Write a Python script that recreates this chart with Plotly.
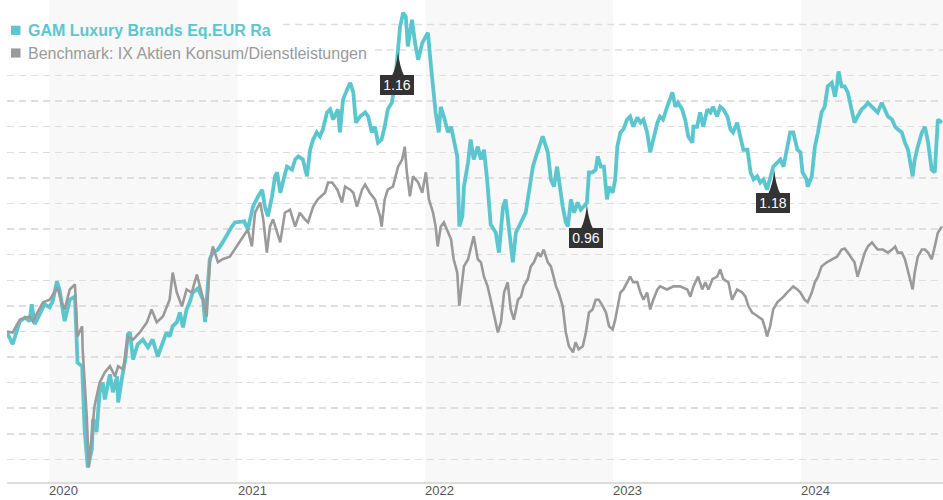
import plotly.graph_objects as go

fund_name = "GAM Luxury Brands Eq.EUR Ra"
bench_name = "Benchmark: IX Aktien Konsum/Dienstleistungen"

# performance in % (start = 0)
fund = [
    ("2019-10-11", -0.2), ("2019-10-22", -2.5), ("2019-11-05", 2.0), ("2019-11-15", 2.7), ("2019-11-24", 2.0),
    ("2019-11-28", 5.3), ("2019-12-04", 1.4), ("2019-12-13", 3.3), ("2019-12-23", 5.3),
    ("2020-01-02", 4.7), ("2020-01-08", 5.9), ("2020-01-16", 9.8), ("2020-01-21", 8.2), ("2020-01-31", 2.0),
    ("2020-02-10", 6.2), ("2020-02-20", 6.8), ("2020-02-25", -6.1), ("2020-03-05", -6.8), ("2020-03-10", -19.5),
    ("2020-03-16", -26.6), ("2020-03-24", -23.0), ("2020-03-26", -17.2), ("2020-03-30", -17.8), ("2020-04-02", -19.7),
    ("2020-04-08", -11.9), ("2020-04-14", -10.0), ("2020-04-18", -13.3), ("2020-04-28", -8.4), ("2020-05-04", -11.9),
    ("2020-05-12", -8.8), ("2020-05-14", -13.9), ("2020-05-22", -8.8), ("2020-05-28", -5.5), ("2020-06-02", -0.6),
    ("2020-06-06", -0.2), ("2020-06-12", -5.5), ("2020-06-21", -2.5), ("2020-07-01", -1.6), ("2020-07-11", -3.1),
    ("2020-07-20", -1.6), ("2020-07-30", -4.9), ("2020-08-09", -2.1), ("2020-08-16", -0.2), ("2020-08-22", -1.0),
    ("2020-08-28", 1.0), ("2020-09-05", 1.8), ("2020-09-11", 3.7), ("2020-09-17", 0.8), ("2020-09-24", 4.3),
    ("2020-09-30", 5.7), ("2020-10-06", 7.6), ("2020-10-16", 8.4), ("2020-10-26", 6.2), ("2020-10-30", 1.8),
    ("2020-11-04", 9.6), ("2020-11-08", 14.1), ("2020-11-14", 15.4), ("2020-11-24", 16.0), ("2020-12-03", 17.4),
    ("2020-12-13", 19.3), ("2020-12-21", 20.5), ("2020-12-27", 21.3),
    ("2021-01-06", 21.5), ("2021-01-14", 21.5), ("2021-01-21", 19.9), ("2021-01-31", 24.4), ("2021-02-10", 26.4),
    ("2021-02-18", 27.7), ("2021-02-23", 24.4), ("2021-03-01", 22.5), ("2021-03-09", 26.4), ("2021-03-15", 30.3),
    ("2021-03-19", 31.1), ("2021-03-25", 27.1), ("2021-03-30", 29.1), ("2021-04-07", 32.2), ("2021-04-17", 31.6),
    ("2021-04-23", 33.6), ("2021-04-29", 34.2), ("2021-05-08", 33.6), ("2021-05-16", 30.3), ("2021-05-22", 35.5),
    ("2021-05-28", 37.5), ("2021-06-04", 38.9), ("2021-06-10", 38.1), ("2021-06-16", 39.5), ("2021-06-24", 42.8),
    ("2021-06-30", 43.4), ("2021-07-06", 41.4), ("2021-07-15", 43.4), ("2021-07-19", 38.9), ("2021-07-25", 45.3),
    ("2021-08-02", 47.3), ("2021-08-08", 48.6), ("2021-08-14", 46.7), ("2021-08-19", 40.8), ("2021-08-27", 42.0),
    ("2021-09-06", 42.8), ("2021-09-12", 42.0), ("2021-09-19", 38.9), ("2021-09-25", 40.0), ("2021-10-01", 36.9),
    ("2021-10-08", 37.5), ("2021-10-14", 40.0), ("2021-10-20", 43.4), ("2021-10-28", 44.7), ("2021-11-03", 48.6),
    ("2021-11-09", 54.5), ("2021-11-13", 59.6), ("2021-11-19", 62.3), ("2021-11-24", 61.5), ("2021-11-28", 55.7),
    ("2021-12-06", 60.9), ("2021-12-12", 56.4), ("2021-12-18", 53.1), ("2021-12-26", 56.4),
    ("2022-01-02", 57.6), ("2022-01-06", 58.4), ("2022-01-12", 51.8), ("2022-01-18", 45.3), ("2022-01-21", 42.8),
    ("2022-01-27", 38.9), ("2022-01-31", 43.9), ("2022-02-06", 42.0), ("2022-02-14", 38.9), ("2022-02-20", 40.0),
    ("2022-02-25", 37.5), ("2022-03-04", 34.2), ("2022-03-08", 20.5), ("2022-03-14", 22.5), ("2022-03-17", 28.3),
    ("2022-03-25", 33.0), ("2022-03-30", 37.5), ("2022-04-05", 33.6), ("2022-04-13", 36.1), ("2022-04-19", 33.6),
    ("2022-04-25", 35.5), ("2022-05-01", 29.7), ("2022-05-08", 20.9), ("2022-05-18", 19.3), ("2022-05-24", 15.4),
    ("2022-06-01", 24.4), ("2022-06-06", 25.8), ("2022-06-12", 20.5), ("2022-06-20", 13.5), ("2022-06-26", 19.3),
    ("2022-07-02", 20.5), ("2022-07-10", 21.9), ("2022-07-15", 23.2), ("2022-07-21", 27.1), ("2022-07-29", 32.2),
    ("2022-08-04", 34.2), ("2022-08-10", 36.1), ("2022-08-17", 38.1), ("2022-08-21", 36.9), ("2022-08-27", 35.0),
    ("2022-09-02", 29.7), ("2022-09-08", 28.3), ("2022-09-14", 32.2), ("2022-09-17", 29.7), ("2022-09-25", 24.4),
    ("2022-10-01", 21.3), ("2022-10-05", 20.5), ("2022-10-11", 25.8), ("2022-10-17", 23.2), ("2022-10-24", 25.2),
    ("2022-10-30", 23.8), ("2022-11-05", 24.4), ("2022-11-11", 25.2), ("2022-11-15", 31.1), ("2022-11-22", 31.1),
    ("2022-11-28", 31.6), ("2022-12-02", 34.2), ("2022-12-08", 32.2), ("2022-12-14", 32.2), ("2022-12-20", 25.8),
    ("2022-12-24", 28.3), ("2022-12-31", 27.1),
    ("2023-01-05", 29.7), ("2023-01-09", 36.1), ("2023-01-15", 38.9), ("2023-01-21", 39.5), ("2023-01-28", 41.4),
    ("2023-02-03", 42.0), ("2023-02-09", 40.0), ("2023-02-17", 41.8), ("2023-02-23", 40.8), ("2023-03-01", 41.4),
    ("2023-03-08", 38.9), ("2023-03-14", 35.0), ("2023-03-20", 37.5), ("2023-03-28", 40.8), ("2023-04-02", 42.0),
    ("2023-04-08", 41.4), ("2023-04-16", 43.9), ("2023-04-22", 45.9), ("2023-04-26", 46.7), ("2023-05-02", 43.9),
    ("2023-05-07", 44.7), ("2023-05-15", 43.4), ("2023-05-21", 41.4), ("2023-05-27", 38.1), ("2023-06-04", 36.9),
    ("2023-06-06", 40.0), ("2023-06-13", 40.0), ("2023-06-19", 42.8), ("2023-06-25", 40.0), ("2023-07-03", 43.4),
    ("2023-07-09", 42.8), ("2023-07-14", 43.9), ("2023-07-22", 42.0), ("2023-07-28", 43.9), ("2023-08-03", 43.4),
    ("2023-08-11", 42.0), ("2023-08-17", 39.5), ("2023-08-22", 38.9), ("2023-08-30", 40.8), ("2023-09-05", 38.1),
    ("2023-09-11", 35.5), ("2023-09-19", 35.5), ("2023-09-25", 31.1), ("2023-10-01", 29.7), ("2023-10-08", 30.3),
    ("2023-10-14", 29.1), ("2023-10-20", 29.7), ("2023-10-27", 27.7), ("2023-11-02", 30.3), ("2023-11-08", 32.2),
    ("2023-11-16", 33.0), ("2023-11-22", 33.6), ("2023-11-28", 32.2), ("2023-12-05", 36.1), ("2023-12-11", 38.9),
    ("2023-12-17", 38.9), ("2023-12-25", 35.5), ("2023-12-31", 35.0),
    ("2024-01-04", 31.1), ("2024-01-12", 29.7), ("2024-01-14", 28.3), ("2024-01-22", 30.3), ("2024-01-28", 36.1),
    ("2024-02-03", 38.9), ("2024-02-10", 42.8), ("2024-02-16", 43.9), ("2024-02-22", 47.9), ("2024-03-01", 48.6),
    ("2024-03-07", 45.9), ("2024-03-11", 48.2), ("2024-03-14", 50.8), ("2024-03-20", 47.9), ("2024-03-26", 47.9),
    ("2024-04-01", 46.7), ("2024-04-09", 42.8), ("2024-04-14", 40.8), ("2024-04-20", 42.0), ("2024-04-28", 43.4),
    ("2024-05-04", 43.9), ("2024-05-10", 44.7), ("2024-05-18", 43.9), ("2024-05-24", 43.4), ("2024-05-29", 42.8),
    ("2024-06-06", 44.7), ("2024-06-12", 43.4), ("2024-06-18", 42.0), ("2024-06-26", 41.4), ("2024-07-02", 40.0),
    ("2024-07-07", 39.5), ("2024-07-15", 38.9), ("2024-07-21", 36.9), ("2024-07-27", 35.5), ("2024-08-05", 30.3),
    ("2024-08-09", 33.6), ("2024-08-15", 36.1), ("2024-08-23", 38.9), ("2024-08-29", 40.0), ("2024-09-04", 36.9),
    ("2024-09-11", 31.6), ("2024-09-17", 31.1), ("2024-09-23", 41.4), ("2024-10-01", 40.8),
]

bench = [
    ("2019-10-11", 0.0), ("2019-10-22", -0.2), ("2019-11-05", 2.3), ("2019-11-24", 2.9), ("2019-11-30", 2.0),
    ("2019-12-20", 5.7),
    ("2020-01-02", 6.2), ("2020-01-17", 8.6), ("2020-01-25", 5.7), ("2020-01-31", 4.3), ("2020-02-10", 8.2),
    ("2020-02-20", 9.2), ("2020-02-25", -1.0), ("2020-03-05", 1.0), ("2020-03-06", -3.5), ("2020-03-14", -16.6),
    ("2020-03-18", -26.5), ("2020-03-24", -20.5), ("2020-03-29", -14.6), ("2020-04-08", -10.0), ("2020-04-18", -8.0),
    ("2020-04-28", -6.8), ("2020-05-08", -8.8), ("2020-05-14", -6.8), ("2020-05-24", -7.4), ("2020-06-02", -1.0),
    ("2020-06-12", -1.6), ("2020-06-25", -0.2), ("2020-07-09", 1.8), ("2020-07-18", 4.3), ("2020-07-28", 1.8),
    ("2020-08-09", 2.9), ("2020-08-22", 6.2), ("2020-08-28", 11.5), ("2020-09-05", 7.6), ("2020-09-15", 4.9),
    ("2020-09-24", 8.2), ("2020-10-04", 7.6), ("2020-10-14", 11.1), ("2020-10-23", 7.6), ("2020-11-02", 2.9),
    ("2020-11-08", 13.5), ("2020-11-14", 16.6), ("2020-11-24", 13.5), ("2020-12-03", 14.1), ("2020-12-17", 14.6),
    ("2020-12-30", 16.6),
    ("2021-01-12", 18.6), ("2021-01-21", 19.9), ("2021-01-29", 16.6), ("2021-02-04", 23.2), ("2021-02-14", 25.2),
    ("2021-02-20", 21.9), ("2021-02-27", 15.4), ("2021-03-05", 20.5), ("2021-03-11", 21.9), ("2021-03-19", 19.3),
    ("2021-03-25", 17.4), ("2021-04-03", 23.2), ("2021-04-13", 23.8), ("2021-04-23", 20.5), ("2021-05-02", 23.2),
    ("2021-05-12", 21.9), ("2021-05-18", 21.3), ("2021-05-28", 24.4), ("2021-06-06", 25.8), ("2021-06-20", 27.1),
    ("2021-06-26", 29.1), ("2021-07-04", 29.1), ("2021-07-14", 27.7), ("2021-07-23", 25.2), ("2021-07-29", 28.3),
    ("2021-08-08", 27.7), ("2021-08-14", 27.1), ("2021-08-21", 24.4), ("2021-08-31", 27.7), ("2021-09-06", 28.7),
    ("2021-09-15", 27.1), ("2021-09-25", 25.8), ("2021-10-05", 22.5), ("2021-10-08", 20.5), ("2021-10-14", 25.8),
    ("2021-10-20", 27.7), ("2021-10-30", 28.3), ("2021-11-09", 32.2), ("2021-11-17", 33.6), ("2021-11-22", 36.1),
    ("2021-11-26", 31.1), ("2021-12-02", 26.4), ("2021-12-08", 30.3), ("2021-12-18", 29.1), ("2021-12-26", 27.1),
    ("2022-01-02", 31.1), ("2022-01-08", 25.8), ("2022-01-16", 23.2), ("2022-01-21", 20.5), ("2022-01-25", 16.6),
    ("2022-01-31", 20.5), ("2022-02-06", 21.3), ("2022-02-14", 19.3), ("2022-02-20", 18.0), ("2022-02-25", 14.1),
    ("2022-03-04", 11.5), ("2022-03-08", 5.0), ("2022-03-17", 12.7), ("2022-03-25", 14.1), ("2022-03-30", 16.0),
    ("2022-04-05", 18.6), ("2022-04-13", 14.1), ("2022-04-19", 13.5), ("2022-04-25", 10.7), ("2022-05-02", 8.8),
    ("2022-05-08", 6.2), ("2022-05-14", 3.7), ("2022-05-22", -0.2), ("2022-05-28", 1.8), ("2022-06-03", 7.6),
    ("2022-06-10", 9.6), ("2022-06-16", 4.3), ("2022-06-22", 2.3), ("2022-06-30", 6.2), ("2022-07-06", 6.8),
    ("2022-07-11", 8.8), ("2022-07-19", 10.2), ("2022-07-25", 12.7), ("2022-07-31", 13.5), ("2022-08-08", 15.4),
    ("2022-08-13", 14.6), ("2022-08-19", 16.0), ("2022-08-27", 13.5), ("2022-09-02", 12.7), ("2022-09-12", 8.8),
    ("2022-09-17", 7.6), ("2022-09-25", 4.9), ("2022-10-01", -0.2), ("2022-10-07", -2.9), ("2022-10-15", -4.1),
    ("2022-10-20", -2.1), ("2022-10-26", -3.5), ("2022-11-03", -2.9), ("2022-11-09", -0.2), ("2022-11-15", 3.7),
    ("2022-11-22", 4.3), ("2022-11-28", 6.2), ("2022-12-04", 6.2), ("2022-12-12", 4.9), ("2022-12-18", 3.7),
    ("2022-12-24", 1.0), ("2022-12-31", 0.4),
    ("2023-01-05", 2.3), ("2023-01-11", 5.7), ("2023-01-15", 7.6), ("2023-01-21", 8.2), ("2023-01-28", 9.6),
    ("2023-02-03", 10.7), ("2023-02-09", 9.6), ("2023-02-17", 9.6), ("2023-02-23", 7.6), ("2023-03-01", 6.2),
    ("2023-03-08", 7.6), ("2023-03-14", 4.3), ("2023-03-20", 6.2), ("2023-03-28", 8.2), ("2023-04-02", 8.8),
    ("2023-04-16", 8.2), ("2023-04-28", 8.8), ("2023-05-11", 8.8), ("2023-05-25", 8.2), ("2023-05-31", 6.8),
    ("2023-06-06", 8.8), ("2023-06-15", 10.7), ("2023-06-23", 8.2), ("2023-06-29", 9.6), ("2023-07-05", 8.2),
    ("2023-07-13", 10.2), ("2023-07-22", 10.7), ("2023-07-28", 12.1), ("2023-08-03", 10.2), ("2023-08-13", 9.6),
    ("2023-08-20", 6.2), ("2023-08-30", 8.2), ("2023-09-09", 7.6), ("2023-09-15", 6.8), ("2023-09-21", 4.9),
    ("2023-09-28", 3.7), ("2023-10-04", 3.3), ("2023-10-10", 2.9), ("2023-10-18", 2.3), ("2023-10-24", 0.4),
    ("2023-10-27", -1.0), ("2023-11-02", 1.0), ("2023-11-08", 4.3), ("2023-11-16", 5.7), ("2023-11-22", 6.2),
    ("2023-11-28", 6.8), ("2023-12-05", 7.6), ("2023-12-11", 8.2), ("2023-12-17", 8.8), ("2023-12-25", 8.2),
    ("2023-12-31", 7.6),
    ("2024-01-08", 6.2), ("2024-01-14", 5.7), ("2024-01-22", 7.6), ("2024-01-28", 9.6), ("2024-02-03", 10.7),
    ("2024-02-10", 12.7), ("2024-02-20", 13.5), ("2024-03-01", 14.1), ("2024-03-11", 14.6), ("2024-03-20", 16.0),
    ("2024-03-26", 16.2), ("2024-04-01", 15.4), ("2024-04-09", 14.1), ("2024-04-14", 13.5), ("2024-04-20", 10.7),
    ("2024-04-28", 13.5), ("2024-05-04", 15.4), ("2024-05-10", 16.6), ("2024-05-18", 17.4), ("2024-05-24", 16.6),
    ("2024-05-29", 16.0), ("2024-06-08", 16.0), ("2024-06-18", 15.4), ("2024-06-26", 16.0), ("2024-07-02", 16.6),
    ("2024-07-07", 15.4), ("2024-07-15", 15.4), ("2024-07-21", 14.1), ("2024-07-27", 11.5), ("2024-08-05", 8.2),
    ("2024-08-09", 11.5), ("2024-08-15", 14.6), ("2024-08-23", 16.0), ("2024-08-29", 16.0), ("2024-09-04", 15.4),
    ("2024-09-11", 14.1), ("2024-09-17", 16.6), ("2024-09-23", 19.3), ("2024-10-01", 20.5),
]

payout_dates = ["2021-11-09", "2022-11-11", "2023-11-10"]
payout_values = [54.7, 24.8, 31.6]
payout_labels = ["1.16", "0.96", "1.18"]

years = [2020, 2021, 2022, 2023, 2024]
shaded_years = [2020, 2022, 2024]
grid_values = [-25, -20, -15, -10, -5, 0, 5, 10, 15, 20, 25, 30, 35, 40, 45, 50]
top_grid_values = [55, 60]
top_grid_starts = [0.393, 0.295]

x_range = ["2019-10-11", "2024-10-03"]
y_range = [-29.43, 64.77]

TEAL = "#5cc6cf"
GRAY = "#9a9a9a"
GRID = "#dedede"
FONT = "Liberation Sans, Arial, sans-serif"

fig = go.Figure()
fig.add_trace(go.Scatter(
    x=[d for d, _ in fund], y=[v for _, v in fund], mode="lines", name=fund_name,
    line=dict(color=TEAL, width=3.8), hoverinfo="skip", showlegend=False))
fig.add_trace(go.Scatter(
    x=[d for d, _ in bench], y=[v for _, v in bench], mode="lines", name=bench_name,
    line=dict(color=GRAY, width=2.6), hoverinfo="skip", showlegend=False))

shapes = []
for yr in shaded_years:
    shapes.append(dict(type="rect", xref="x", yref="paper", x0=f"{yr}-01-01", x1=f"{yr + 1}-01-01",
                       y0=0, y1=1, fillcolor="#f8f8f8", line=dict(width=0), layer="below"))
for gv, gs in zip(top_grid_values, top_grid_starts):
    shapes.append(dict(type="line", xref="paper", yref="y", x0=gs, x1=1, y0=gv, y1=gv,
                       line=dict(color=GRID, width=1.5, dash="7px,5px"), layer="below"))

# legend squares
for i, col in enumerate([TEAL, GRAY]):
    cy = [-30.3, -53.0][i]
    shapes.append(dict(type="rect", xref="paper", yref="paper", xsizemode="pixel", ysizemode="pixel",
                       xanchor=0, yanchor=1, x0=4, x1=13.5, y0=cy + 4.6, y1=cy - 4.6,
                       fillcolor=col, line=dict(width=0)))

annotations = []
for d, v, lab in zip(payout_dates, payout_values, payout_labels):
    shapes.append(dict(type="path", xref="x", yref="y", xsizemode="pixel", ysizemode="pixel",
                       xanchor=d, yanchor=v,
                       path="M0,0 Q-1.5,-15 -6,-24 L6,-24 Q1.5,-15 0,0 Z",
                       fillcolor="#333333", line=dict(width=0), layer="above"))
    annotations.append(dict(x=d, y=v, xref="x", yref="y", text=lab, showarrow=False,
                            xanchor="center", yanchor="top", yshift=-23, xshift=-1,
                            bgcolor="#333333", borderpad=2, borderwidth=0, width=30, height=16,
                            font=dict(family=FONT, size=14, color="#ffffff")))

# year labels, left-aligned at the start of each year
for yr in years:
    annotations.append(dict(x=f"{yr}-01-01", y=0, xref="x", yref="paper", text=str(yr),
                            showarrow=False, xanchor="left", yanchor="middle", yshift=-8,
                            xshift=0, borderpad=0, borderwidth=0,
                            font=dict(family=FONT, size=13, color="#555555")))

annotations.append(dict(x=0, y=1, xref="paper", yref="paper", xanchor="left", yanchor="middle",
                        xshift=19, yshift=-30.3, showarrow=False, text=f"<b>{fund_name}</b>",
                        font=dict(family=FONT, size=16, color=TEAL)))
annotations.append(dict(x=0, y=1, xref="paper", yref="paper", xanchor="left", yanchor="middle",
                        xshift=19, yshift=-53.0, showarrow=False, text=bench_name,
                        font=dict(family=FONT, size=16, color=GRAY)))

fig.update_layout(
    width=943, height=500, autosize=False,
    margin=dict(l=7, r=0, t=0, b=18, pad=0),
    paper_bgcolor="#ffffff", plot_bgcolor="#ffffff",
    shapes=shapes, annotations=annotations,
    showlegend=False, hovermode=False,
    xaxis=dict(type="date", range=x_range, showgrid=False, zeroline=False,
               showline=True, linecolor="#dcdcdc", linewidth=2,
               tickvals=[f"{y}-01-01" for y in years], showticklabels=False,
               ticks="", automargin=False, fixedrange=True),
    yaxis=dict(range=y_range, tickvals=grid_values, showticklabels=False, showgrid=True,
               gridcolor=GRID, gridwidth=1.5, griddash="7px,5px", zeroline=False,
               showline=False, ticks="", automargin=False, fixedrange=True),
)

fig.write_html("out.html", config={"displayModeBar": False, "staticPlot": True})
